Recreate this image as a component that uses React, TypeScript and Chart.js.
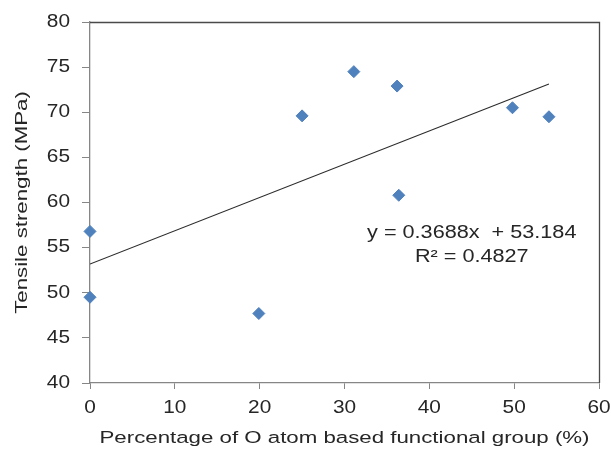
import React, { useEffect, useRef } from "react";
import { Chart, registerables } from "chart.js";

Chart.register(...registerables);

// Data
const oxygenPercent = [0, 0, 19.9, 25.0, 31.1, 36.2, 36.4, 49.8, 54.1];
const tensileStrength = [56.8, 49.5, 47.7, 69.6, 74.5, 72.9, 60.8, 70.5, 69.5];
const trendSlope = 0.3688;
const trendIntercept = 53.184;
const trendR2 = 0.4827;
const xTicks = [0, 10, 20, 30, 40, 50, 60];
const yTicks = [40, 45, 50, 55, 60, 65, 70, 75, 80];

const FONT = "'Liberation Sans', Arial, sans-serif";
const TEXT = "#262626";
const TICK_SIZE = 17.5;
const TITLE_SIZE = 17.4;
const EQ_SIZE = 17.6;

// the reference's typeface is wider than Arial: stretch glyphs along the text direction
function stretchFor(size: number) {
  if (Math.abs(size - TICK_SIZE) < 0.01) return 1.19;
  if (Math.abs(size - TITLE_SIZE) < 0.01) return 1.28;
  if (Math.abs(size - EQ_SIZE) < 0.01) return 1.23;
  return 1;
}

const frameAndLabel = {
  id: "frameAndLabel",
  afterDatasetsDraw(chart: any) {
    const { ctx, chartArea, scales } = chart;
    ctx.save();
    ctx.strokeStyle = "#4a4a4a";
    ctx.lineWidth = 1.3;
    ctx.beginPath();
    ctx.moveTo(chartArea.left, chartArea.top + 0.5);
    ctx.lineTo(chartArea.right + 0.5, chartArea.top + 0.5);
    ctx.lineTo(chartArea.right + 0.5, chartArea.bottom);
    ctx.stroke();

    const eqX = scales.x.getPixelForValue(45.0);
    const eq1Y = scales.y.getPixelForValue(56.6);
    const eq2Y = scales.y.getPixelForValue(53.95);
    ctx.fillStyle = TEXT;
    ctx.font = `${EQ_SIZE}px ${FONT}`;
    ctx.textAlign = "center";
    ctx.textBaseline = "middle";
    ctx.fillText(`y = ${trendSlope}x  + ${trendIntercept}`, eqX, eq1Y);
    ctx.fillText(`R² = ${trendR2}`, eqX, eq2Y);
    ctx.restore();
  },
};

export default function App() {
  const ref = useRef<HTMLCanvasElement | null>(null);
  useEffect(() => {
    const canvas = ref.current;
    if (!canvas) return;
    const c2d = canvas.getContext("2d") as any;
    const origFill = c2d.fillText.bind(c2d);
    c2d.fillText = (text: string, x: number, y: number, maxWidth?: number) => {
      const m = /([\d.]+)px/.exec(c2d.font);
      const sx = stretchFor(m ? parseFloat(m[1]) : 0);
      if (sx === 1) {
        if (maxWidth === undefined) origFill(text, x, y);
        else origFill(text, x, y, maxWidth);
        return;
      }
      c2d.save();
      c2d.translate(x, y);
      c2d.scale(sx, 1);
      if (maxWidth === undefined) origFill(text, 0, 0);
      else origFill(text, 0, 0, maxWidth / sx);
      c2d.restore();
    };

    const xMax = Math.max(...oxygenPercent);
    const trend = [0, xMax].map((x) => ({ x, y: trendSlope * x + trendIntercept }));
    const points = oxygenPercent.map((x, i) => ({ x, y: tensileStrength[i] }));
    const chart = new Chart(canvas, {
      type: "scatter",
      data: {
        datasets: [
          {
            data: trend as any,
            showLine: true,
            borderColor: "#2b2b2b",
            borderWidth: 1.1,
            pointRadius: 0,
            fill: false,
            order: 0,
          },
          {
            data: points as any,
            pointStyle: "rectRot",
            pointRadius: 6,
            backgroundColor: "#4F81BD",
            borderColor: "#4F81BD",
            borderWidth: 1,
            clip: false as any,
            order: 1,
          },
        ],
      },
      options: {
        responsive: false,
        animation: false,
        devicePixelRatio: 1,
        layout: { padding: { top: 22, right: 12, left: 0, bottom: 0 } },
        plugins: {
          legend: { display: false },
          tooltip: { enabled: false },
        },
        scales: {
          x: {
            type: "linear",
            min: 0,
            max: 60,
            afterBuildTicks: (s: any) => {
              s.ticks = xTicks.map((v) => ({ value: v }));
            },
            afterFit: (s: any) => {
              s.height = 67;
              s.paddingLeft = 0;
              s.paddingRight = 0;
            },
            grid: { drawOnChartArea: false, drawTicks: true, tickLength: 6, color: "#868686" },
            border: { color: "#868686", width: 1.3 },
            ticks: { color: TEXT, font: { family: FONT, size: TICK_SIZE }, padding: 9, maxRotation: 0 },
            title: {
              display: true,
              text: "Percentage of O atom based functional group (%)",
              color: TEXT,
              font: { family: FONT, size: TITLE_SIZE },
              padding: { top: 0, bottom: 1 },
            },
          },
          y: {
            type: "linear",
            min: 40,
            max: 80,
            afterBuildTicks: (s: any) => {
              s.ticks = yTicks.map((v) => ({ value: v }));
            },
            afterFit: (s: any) => {
              s.width = 90;
              s.paddingTop = 0;
              s.paddingBottom = 0;
            },
            grid: { drawOnChartArea: false, drawTicks: true, tickLength: 8, color: "#868686" },
            border: { color: "#868686", width: 1.3 },
            ticks: { color: TEXT, font: { family: FONT, size: TICK_SIZE }, padding: 12 },
            title: {
              display: true,
              text: "Tensile strength (MPa)",
              color: TEXT,
              font: { family: FONT, size: TITLE_SIZE },
              padding: { top: 11.5, bottom: 0 },
            },
          },
        },
      },
      plugins: [frameAndLabel],
    });
    return () => {
      chart.destroy();
      c2d.fillText = origFill;
    };
  }, []);
  return (
    <div style={{ position: "fixed", left: 0, top: 0, width: 611, height: 450, background: "#fff" }}>
      <canvas ref={ref} width={611} height={450} style={{ display: "block" }} />
    </div>
  );
}
